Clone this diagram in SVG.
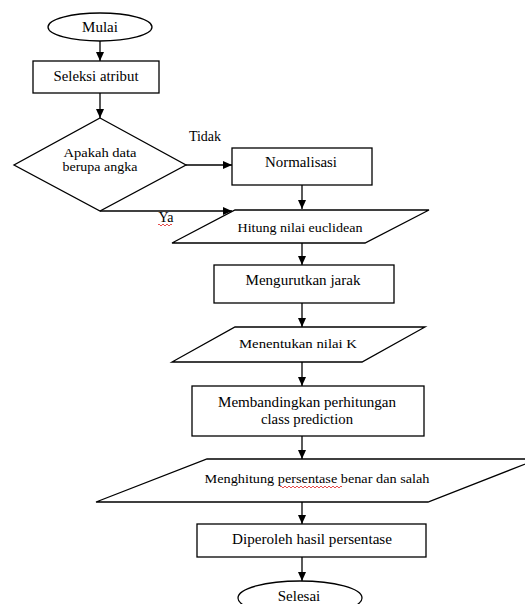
<svg xmlns="http://www.w3.org/2000/svg" width="525" height="604" viewBox="0 0 525 604">
<style>
.s{fill:#fff;stroke:#000;stroke-width:1.3}
.t{font-family:"Liberation Serif","Times New Roman",serif;fill:#000;text-anchor:middle}
.c{fill:none;stroke:#000;stroke-width:1.3}
.w{fill:none;stroke:#e02020;stroke-width:0.8}
</style>
<defs>
<marker id="ah" markerWidth="10" markerHeight="10" refX="9" refY="5" orient="auto" markerUnits="userSpaceOnUse">
<path d="M0,1 L9,5 L0,9 Z" fill="#000"/>
</marker>
</defs>
<rect width="525" height="604" fill="#fff"/>
<g id="connectors">
<line class="c" x1="100" y1="41" x2="100" y2="61" marker-end="url(#ah)"/>
<line class="c" x1="100" y1="93" x2="100" y2="118" marker-end="url(#ah)"/>
<line class="c" x1="186" y1="165" x2="232" y2="165" marker-end="url(#ah)"/>
<line class="c" x1="100" y1="211" x2="232" y2="211" marker-end="url(#ah)"/>
<line class="c" x1="302" y1="185" x2="302" y2="209" marker-end="url(#ah)"/>
<line class="c" x1="302" y1="243" x2="302" y2="265" marker-end="url(#ah)"/>
<line class="c" x1="302" y1="303" x2="302" y2="327" marker-end="url(#ah)"/>
<line class="c" x1="302" y1="362" x2="302" y2="386" marker-end="url(#ah)"/>
<line class="c" x1="302" y1="436" x2="302" y2="459" marker-end="url(#ah)"/>
<line class="c" x1="302" y1="502" x2="302" y2="524" marker-end="url(#ah)"/>
<line class="c" x1="302" y1="557" x2="302" y2="581" marker-end="url(#ah)"/>
<text class="t" x="205" y="141" font-size="14">Tidak</text>
<text class="t" x="166" y="222" font-size="14">Ya</text>
<path class="w" d="M158,225 q1,-2 2,0 t2,0 t2,0 t2,0 t2,0 t2,0 t2,0"/>
</g>
<g id="mulai">
<ellipse class="s" cx="100" cy="27" rx="52" ry="14"/>
<text class="t" x="100" y="32" font-size="15">Mulai</text>
</g>
<g id="seleksi">
<rect class="s" x="33" y="61" width="126" height="32"/>
<text class="t" x="96" y="81" font-size="15" textLength="85" lengthAdjust="spacingAndGlyphs">Seleksi atribut</text>
</g>
<g id="decision">
<polygon class="s" points="100,118 186,165 100,211 14,165"/>
<text class="t" x="100" y="157" font-size="13" textLength="73" lengthAdjust="spacingAndGlyphs">Apakah data</text>
<text class="t" x="100" y="171" font-size="13" textLength="75" lengthAdjust="spacingAndGlyphs">berupa angka</text>
</g>
<g id="normalisasi">
<rect class="s" x="232" y="148" width="140" height="37"/>
<text class="t" x="301" y="167" font-size="15" textLength="72" lengthAdjust="spacingAndGlyphs">Normalisasi</text>
</g>
<g id="hitung">
<polygon class="s" points="235,210 429,210 365,243 172,243"/>
<text class="t" x="300" y="232" font-size="13" textLength="125" lengthAdjust="spacingAndGlyphs">Hitung nilai euclidean</text>
</g>
<g id="mengurutkan">
<rect class="s" x="214" y="265" width="180" height="38"/>
<text class="t" x="303" y="285" font-size="15" textLength="115" lengthAdjust="spacingAndGlyphs">Mengurutkan jarak</text>
</g>
<g id="menentukan">
<polygon class="s" points="235,327 425,327 362,362 172,362"/>
<text class="t" x="298" y="348" font-size="13" textLength="118" lengthAdjust="spacingAndGlyphs">Menentukan nilai K</text>
</g>
<g id="membandingkan">
<rect class="s" x="192" y="386" width="232" height="50"/>
<text class="t" x="307" y="407" font-size="15" textLength="178" lengthAdjust="spacingAndGlyphs">Membandingkan perhitungan</text>
<text class="t" x="307" y="424" font-size="15" textLength="92" lengthAdjust="spacingAndGlyphs">class prediction</text>
</g>
<g id="menghitung">
<polygon class="s" points="207,459 538,459 428,502 96,502"/>
<text class="t" x="317" y="483" font-size="13" textLength="225" lengthAdjust="spacingAndGlyphs">Menghitung persentase benar  dan salah</text>
<path class="w" d="M280,487 q1,-2 2,0 t2,0 t2,0 t2,0 t2,0 t2,0 t2,0 t2,0 t2,0 t2,0 t2,0 t2,0 t2,0 t2,0 t2,0 t2,0 t2,0 t2,0 t2,0 t2,0 t2,0 t2,0 t2,0 t2,0 t2,0 t2,0 t2,0 t2,0 t2,0 t2,0 t2,0"/>
</g>
<g id="diperoleh">
<rect class="s" x="197" y="524" width="229" height="33"/>
<text class="t" x="312" y="544" font-size="15" textLength="160" lengthAdjust="spacingAndGlyphs">Diperoleh hasil persentase</text>
</g>
<g id="selesai">
<ellipse class="s" cx="300" cy="598" rx="62" ry="17"/>
<text class="t" x="299" y="601" font-size="15">Selesai</text>
</g>
</svg>
